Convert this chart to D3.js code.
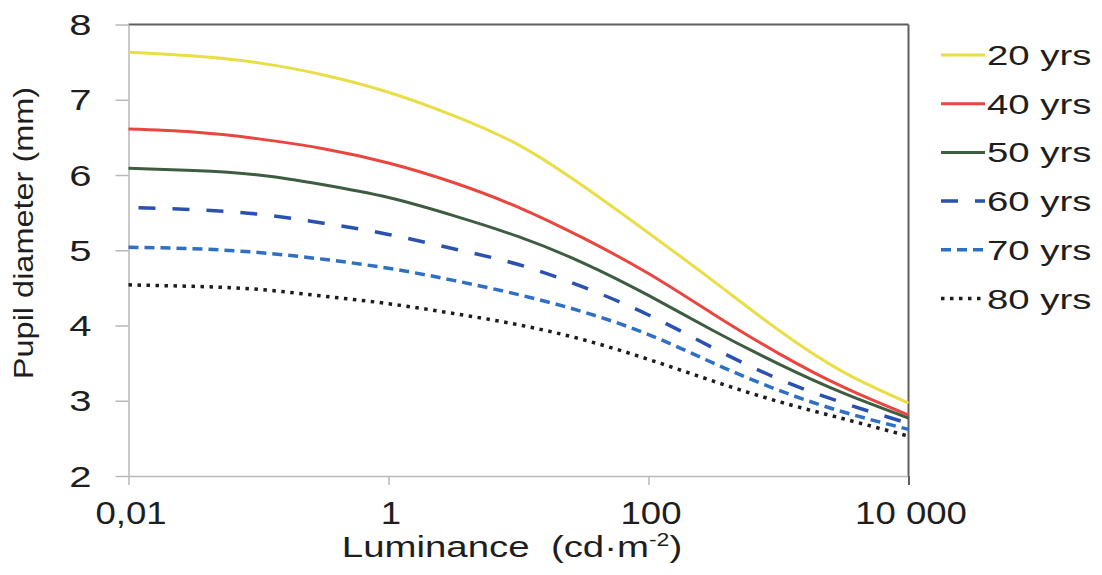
<!DOCTYPE html>
<html>
<head>
<meta charset="utf-8">
<script src="https://cdn.jsdelivr.net/npm/d3@7"></script>
<style>
  html, body { margin: 0; padding: 0; background: #fff; }
  svg { display: block; font-family: "Liberation Sans", Arial, sans-serif; }
  text { fill: #1e1e1e; }
</style>
</head>
<body>
<svg id="chart" width="1102" height="575"></svg>
<script>
// Luminance sample points (cd/m², half-decade steps)
const luminance = [0.01, 0.0316, 0.1, 0.316, 1, 3.16, 10, 31.6, 100, 316, 1000, 3162, 10000];

// Pupil diameter (mm) per age group
const pupil20 = [7.63, 7.58, 7.49, 7.33, 7.10, 6.79, 6.40, 5.85, 5.23, 4.59, 3.94, 3.38, 2.97];
const pupil40 = [6.61, 6.57, 6.48, 6.35, 6.16, 5.90, 5.57, 5.16, 4.69, 4.15, 3.63, 3.18, 2.81];
const pupil50 = [6.09, 6.06, 6.00, 5.87, 5.70, 5.46, 5.18, 4.83, 4.40, 3.93, 3.49, 3.10, 2.77];
const pupil60 = [5.57, 5.54, 5.48, 5.36, 5.21, 5.02, 4.81, 4.51, 4.14, 3.70, 3.29, 2.97, 2.70];
const pupil70 = [5.04, 5.02, 4.97, 4.88, 4.76, 4.60, 4.41, 4.18, 3.88, 3.50, 3.14, 2.85, 2.62];
const pupil80 = [4.54, 4.52, 4.48, 4.39, 4.29, 4.16, 4.01, 3.81, 3.55, 3.26, 2.99, 2.76, 2.53];

const seriesNames = ["20 yrs", "40 yrs", "50 yrs", "60 yrs", "70 yrs", "80 yrs"];
const seriesValues = [pupil20, pupil40, pupil50, pupil60, pupil70, pupil80];

const xTickValues = [0.01, 1, 100, 10000];
const xTickLabels = ["0,01", "1", "100", "10 000"];
const yTickValues = [2, 3, 4, 5, 6, 7, 8];

// Line styling per series
const seriesStyle = [
  { color: "#e9de45", width: 3,   dash: null,      offset: 0 },
  { color: "#e8463f", width: 3,   dash: null,      offset: 0 },
  { color: "#3d5c40", width: 3,   dash: null,      offset: 0 },
  { color: "#2a50b0", width: 3.5, dash: "17,17",   offset: 24 },
  { color: "#2e70c4", width: 3.5, dash: "10,6",    offset: 0 },
  { color: "#1c1c1c", width: 3.5, dash: "3.5,5.5", offset: 0 }
];

const svg = d3.select("#chart");
const plot = { left: 128.5, right: 908.5, top: 24.5, bottom: 476 };

const x = d3.scaleLog().domain([0.01, 10000]).range([plot.left, plot.right]);
const y = d3.scaleLinear().domain([2, 8]).range([plot.bottom, plot.top]);

// Frame: dark top/right edges
svg.append("line")
  .attr("x1", plot.left).attr("x2", plot.right)
  .attr("y1", plot.top).attr("y2", plot.top)
  .attr("stroke", "#5e5e5e").attr("stroke-width", 2);
svg.append("line")
  .attr("x1", plot.right).attr("x2", plot.right)
  .attr("y1", plot.top).attr("y2", plot.bottom)
  .attr("stroke", "#5e5e5e").attr("stroke-width", 2);

// Y axis
const yAxis = svg.append("g")
  .attr("transform", `translate(${plot.left},0)`)
  .call(d3.axisLeft(y).tickValues(yTickValues).tickSize(13).tickSizeOuter(0).tickFormat(d3.format("d")));
yAxis.select(".domain").attr("stroke", "#b8b8b8").attr("stroke-width", 1.5);
yAxis.selectAll(".tick line").attr("stroke", "#b8b8b8").attr("stroke-width", 1.5);
yAxis.selectAll(".tick text")
  .attr("x", null).attr("dy", "0.35em")
  .attr("font-size", 29)
  .attr("fill", "#1e1e1e")
  .attr("text-anchor", "end")
  .attr("transform", "translate(-37,0) scale(1.38,1)");

// X axis
const xAxis = svg.append("g")
  .attr("transform", `translate(0,${plot.bottom})`)
  .call(d3.axisBottom(x).tickValues(xTickValues).tickSize(9).tickSizeOuter(0)
    .tickFormat((d, i) => xTickLabels[i]));
xAxis.select(".domain").attr("stroke", "#b8b8b8").attr("stroke-width", 1.5);
xAxis.selectAll(".tick line").attr("stroke", "#b8b8b8").attr("stroke-width", 1.5);
xAxis.selectAll(".tick text")
  .attr("y", null).attr("dy", null)
  .attr("font-size", 31)
  .attr("fill", "#1e1e1e")
  .attr("text-anchor", "middle")
  .attr("transform", "translate(2,48) scale(1.18,1)");
// rightmost tick continues the dark frame edge
xAxis.selectAll(".tick line").filter(d => d === 10000).attr("stroke", "#5e5e5e").attr("stroke-width", 2);

// Curves
const line = d3.line()
  .x(d => x(d[0]))
  .y(d => y(d[1]))
  .curve(d3.curveNatural);

seriesValues.forEach((vals, i) => {
  const st = seriesStyle[i];
  const pts = luminance.map((l, j) => [l, vals[j]]);
  const p = svg.append("path")
    .datum(pts)
    .attr("d", line)
    .attr("fill", "none")
    .attr("stroke", st.color)
    .attr("stroke-width", st.width);
  if (st.dash) p.attr("stroke-dasharray", st.dash).attr("stroke-dashoffset", st.offset);
});

// Legend
const legend = svg.append("g");
seriesNames.forEach((name, i) => {
  const st = seriesStyle[i];
  const ly = 55 + i * 48.7;
  const l = legend.append("line")
    .attr("x1", 941).attr("x2", 985)
    .attr("y1", ly).attr("y2", ly)
    .attr("stroke", st.color)
    .attr("stroke-width", st.width);
  if (st.dash) l.attr("stroke-dasharray", st.dash);
  legend.append("text")
    .attr("transform", `translate(987,${ly}) scale(1.37,1)`)
    .attr("dy", "0.36em")
    .attr("font-size", 28)
    .text(name);
});

// Axis titles
const xTitle = svg.append("text")
  .attr("transform", "translate(512,557) scale(1.28,1)")
  .attr("text-anchor", "middle")
  .attr("font-size", 30)
  .style("white-space", "pre");
xTitle.append("tspan").text("Luminance  (cd·m");
xTitle.append("tspan").attr("dy", -11).attr("font-size", 18).text("-2");
xTitle.append("tspan").attr("dy", 11).text(")");

svg.append("text")
  .attr("transform", "translate(33,233) rotate(-90) scale(1.16,1)")
  .attr("text-anchor", "middle")
  .attr("font-size", 28)
  .text("Pupil diameter (mm)");
</script>
</body>
</html>
